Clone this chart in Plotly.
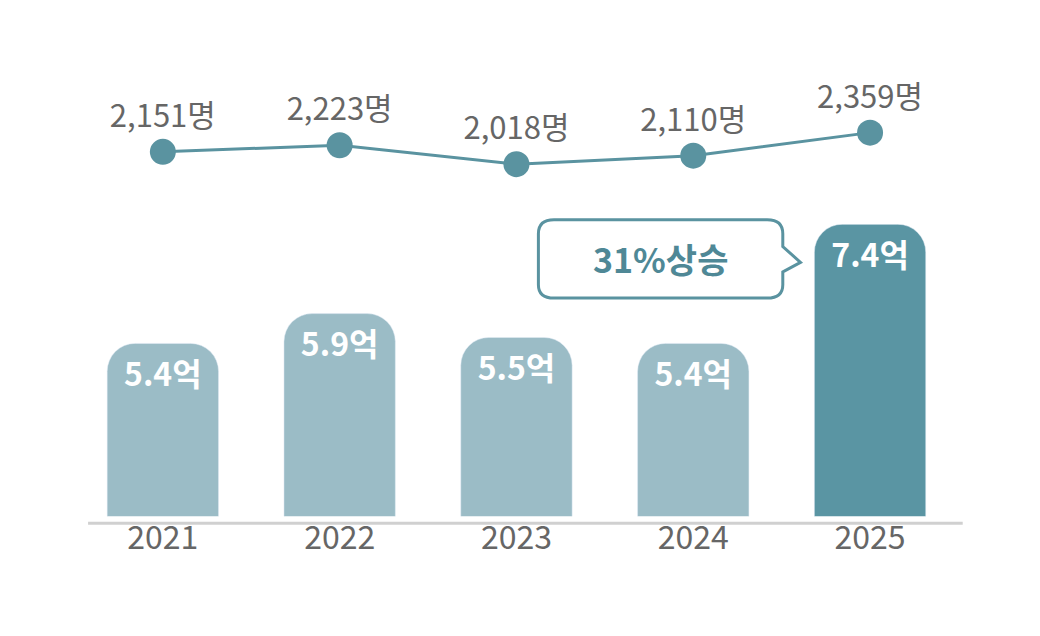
import plotly.graph_objects as go

years = ["2021", "2022", "2023", "2024", "2025"]
revenue = [5.4, 5.9, 5.5, 5.4, 7.4]
revenue_labels = ["<b>5.4억</b>", "<b>5.9억</b>", "<b>5.5억</b>", "<b>5.4억</b>", "<b>7.4억</b>"]
people = [2151, 2223, 2018, 2110, 2359]
people_labels = ["2,151명", "2,223명", "2,018명", "2,110명", "2,359명"]

bar_colors = ["#9bbcc6"] * 4 + ["#5a95a3"]

fig = go.Figure()

# 매출 막대
fig.add_trace(go.Bar(
    x=years, y=revenue, width=0.63,
    marker=dict(color=bar_colors, cornerradius=28),
    text=revenue_labels, textposition="inside", insidetextanchor="end",
    textfont=dict(color="white", size=32, family="Noto Sans CJK KR"),
    cliponaxis=False, yaxis="y",
))

# 인원 꺾은선
fig.add_trace(go.Scatter(
    x=years, y=people, mode="lines+markers+text",
    line=dict(color="#5a93a0", width=3),
    marker=dict(color="#5a93a0", size=26),
    text=people_labels, textposition="top center",
    textfont=dict(color="#666666", size=31, family="Noto Sans CJK KR"),
    cliponaxis=False, yaxis="y2",
))

# 말풍선
path = ("M 0.525,0.667 L 0.73,0.667 Q 0.745,0.667 0.745,0.645 "
        "L 0.745,0.625 L 0.762,0.600 L 0.745,0.585 L 0.745,0.565 "
        "Q 0.745,0.544 0.73,0.544 L 0.525,0.544 Q 0.51,0.544 0.51,0.565 "
        "L 0.51,0.645 Q 0.51,0.667 0.525,0.667 Z")
fig.add_shape(type="path", path=path, xref="paper", yref="paper",
              line=dict(color="#5a93a0", width=3), fillcolor="white")
fig.add_annotation(x=0.6275, y=0.6055, xref="paper", yref="paper",
                   text="<b>31%상승</b>", showarrow=False,
                   font=dict(color="#4f8896", size=34, family="Noto Sans CJK KR"))

# 기준선
fig.add_shape(type="line", x0=0.077, x1=0.918, y0=0.19, y1=0.19,
              xref="paper", yref="paper", line=dict(color="#d0d0d0", width=3))

fig.update_layout(
    width=1040, height=636,
    margin=dict(l=0, r=0, t=0, b=0),
    paper_bgcolor="white", plot_bgcolor="white",
    showlegend=False,
    xaxis=dict(domain=[0.0639, 0.9139], range=[-0.5, 4.5], showgrid=False,
               showline=False, zeroline=False, ticks="", anchor="y",
               tickfont=dict(color="#666666", size=32, family="Noto Sans CJK KR")),
    yaxis=dict(domain=[0.201, 0.66], range=[2.5, 7.4], visible=False),
    yaxis2=dict(domain=[0.73, 0.81], range=[1850, 2400], visible=False,
                anchor="x"),
)

fig.write_html("out.html")
